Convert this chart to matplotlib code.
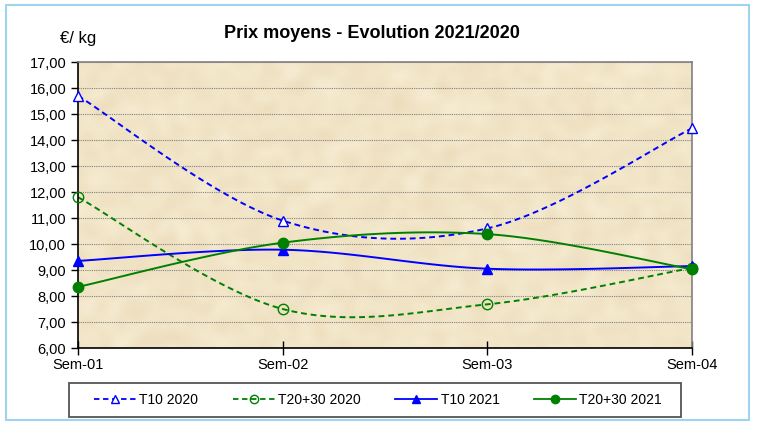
import numpy as np
import matplotlib
matplotlib.use("Agg")
from matplotlib import pyplot as plt
from matplotlib.patches import Rectangle

plt.rcParams['font.family'] = ['Liberation Sans', 'DejaVu Sans']

# data
weeks = ["Sem-01", "Sem-02", "Sem-03", "Sem-04"]
t10_2020 = [15.70, 10.90, 10.60, 14.45]
t2030_2020 = [11.80, 7.50, 7.68, 9.08]
t10_2021 = [9.35, 9.78, 9.05, 9.15]
t2030_2021 = [8.35, 10.05, 10.38, 9.03]
yticks = np.arange(6, 17.01, 1)


def smooth(x, y, n=40):
    # catmull-rom style smoothing like excel "smoothed line"
    x = np.asarray(x, float)
    y = np.asarray(y, float)
    px = np.concatenate([[x[0]], x, [x[-1]]])
    py = np.concatenate([[y[0]], y, [y[-1]]])
    xs, ys = [], []
    for i in range(1, len(px) - 2):
        p0, p1, p2, p3 = [np.array([px[k], py[k]]) for k in (i - 1, i, i + 1, i + 2)]
        c1 = p1 + (p2 - p0) / 6.
        c2 = p2 - (p3 - p1) / 6.
        t = np.linspace(0, 1, n)[:, None]
        b = (1 - t)**3 * p1 + 3 * (1 - t)**2 * t * c1 + 3 * (1 - t) * t**2 * c2 + t**3 * p2
        xs.extend(b[:, 0])
        ys.extend(b[:, 1])
    return np.array(xs), np.array(ys)


W, H = 757., 422.
fig = plt.figure(figsize=(7.57, 4.22), dpi=100)
# outer frame
fig.patches.append(Rectangle((6 / W, 1 - 420 / H), 743 / W, 415 / H,
                             transform=fig.transFigure, fill=False,
                             edgecolor='#9fd3ee', linewidth=1.5))
# legend frame
fig.patches.append(Rectangle((69 / W, 1 - 417 / H), 612 / W, 34 / H,
                             transform=fig.transFigure, fill=True, facecolor='white',
                             edgecolor='#555555', linewidth=1.3))

ax = fig.add_axes([78 / W, 1 - 348 / H, 614 / W, 286 / H])

# parchment-ish background
rng = np.random.default_rng(3)
tex = rng.normal(size=(70, 140))
for _ in range(3):
    tex = (tex + np.roll(tex, 1, 0) + np.roll(tex, -1, 0) + np.roll(tex, 1, 1) + np.roll(tex, -1, 1)) / 5.
tex = (tex - tex.min()) / (tex.max() - tex.min())
base = np.array([0.925, 0.865, 0.735])
light = np.array([0.970, 0.930, 0.830])
img = base[None, None, :] * (1 - tex[..., None]) + light[None, None, :] * tex[..., None]
ax.imshow(img, extent=[0, 3, 6, 17], aspect='auto', zorder=0, interpolation='bilinear')

x = np.arange(len(weeks))

series = [
    (t10_2020, 'T10 2020', '#0000ff', '--', '^', 'white'),
    (t2030_2020, 'T20+30 2020', '#008000', '--', 'o', 'none'),
    (t10_2021, 'T10 2021', '#0000ff', '-', '^', '#0000ff'),
    (t2030_2021, 'T20+30 2021', '#008000', '-', 'o', '#008000'),
]
for vals, lab, col, ls, mk, mfc in series:
    sx, sy = smooth(x, vals)
    ax.plot(sx, sy, color=col, linestyle=ls, linewidth=1.4, zorder=3,
            dashes=(3, 2) if ls == '--' else (None, None))
    ax.plot(x, vals, linestyle='none', marker=mk, markersize=7.5,
            markerfacecolor=mfc, markeredgecolor=col, markeredgewidth=1.0, zorder=6,
            clip_on=False)
    ax.plot([], [], color=col, linestyle=ls, linewidth=1.3, marker=mk, markersize=6,
            markerfacecolor=mfc, markeredgecolor=col, label=lab,
            dashes=(3, 2) if ls == '--' else (None, None))

ax.set_xlim(0, 3)
ax.set_ylim(6, 17)
ax.set_yticks(yticks)
ax.set_yticklabels([("%.2f" % v).replace('.', ',') for v in yticks])
ax.set_xticks(x)
ax.set_xticklabels(weeks)
ax.yaxis.grid(True, color='#808080', linestyle=(0, (1, 1)), linewidth=0.8)
for gl in ax.get_ygridlines():
    gl.set_zorder(1)
ax.tick_params(axis='y', direction='out', length=5, labelsize=10.5, width=1)
ax.tick_params(axis='x', direction='inout', length=10, labelsize=10.5, width=1, pad=2)
ax.spines['left'].set_color('black')
ax.spines['bottom'].set_color('black')
ax.spines['top'].set_color('#808080')
ax.spines['right'].set_color('#808080')
for s in ax.spines.values():
    s.set_linewidth(1.2)
    s.set_zorder(5)

fig.text(372 / W, 1 - 33 / H, "Prix moyens - Evolution 2021/2020", ha='center', va='center',
         fontsize=13, fontweight='bold')
fig.text(78 / W, 1 - 39 / H, "€/ kg", ha='center', va='center', fontsize=12)

leg = fig.legend(loc='center', bbox_to_anchor=(378 / W, 1 - 400 / H), ncol=4,
                 fontsize=10, frameon=False, handlelength=3.0,
                 columnspacing=2.5, handletextpad=0.25)

plt.savefig("out.png", dpi=100)
